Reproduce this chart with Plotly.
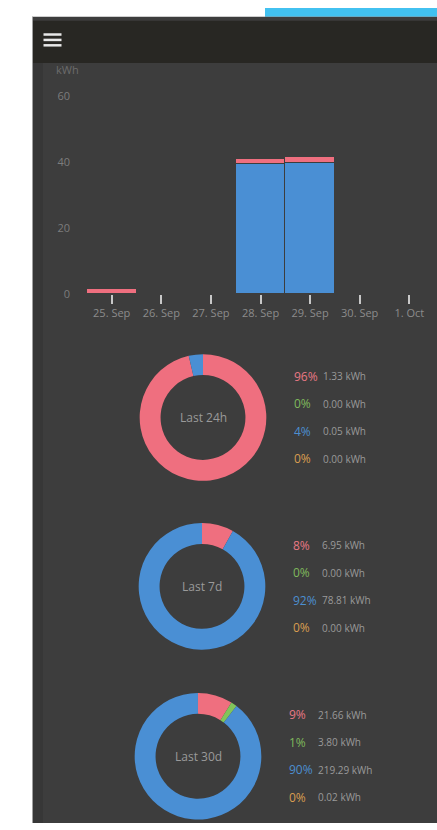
import plotly.graph_objects as go

W, H = 437, 830

# ---- data ----
days = ["25. Sep", "26. Sep", "27. Sep", "28. Sep", "29. Sep", "30. Sep", "1. Oct"]
pink_kwh = [1.7, 0, 0, 1.5, 1.6, 0, 0]
blue_kwh = [0, 0, 0, 39.3, 39.8, 0, 0]
y_ticks = [0, 20, 40, 60]

periods = ["Last 24h", "Last 7d", "Last 30d"]
slice_names = ["Pink", "Green", "Blue", "Orange"]
vals_24h = [1.33, 0.00, 0.05, 0.00]
vals_7d = [6.95, 0.00, 78.81, 0.00]
vals_30d = [21.66, 3.80, 219.29, 0.02]
pct_24h = ["96%", "0%", "4%", "0%"]
pct_7d = ["8%", "0%", "92%", "0%"]
pct_30d = ["9%", "1%", "90%", "0%"]

PINK = "#ef6f7f"
GREEN = "#82c45a"
BLUE = "#4a8fd4"
ORANGE = "#e0a04e"
slice_colors = [PINK, GREEN, BLUE, ORANGE]
pct_colors = ["#e87884", "#7fb95c", "#4c8fd0", "#d99d50"]

PANEL = "#3d3d3d"


def px(x):
    return x / W


def py(y):
    return 1 - y / H


fig = go.Figure()

fig.add_trace(go.Bar(x=days, y=blue_kwh, marker=dict(color=BLUE, line=dict(color=PANEL, width=1)),
                     width=1.0, name="Blue", xaxis="x", yaxis="y", hoverinfo="skip"))
fig.add_trace(go.Bar(x=days, y=pink_kwh, marker=dict(color=PINK, line=dict(color=PANEL, width=1)),
                     width=1.0, name="Pink", xaxis="x", yaxis="y", hoverinfo="skip"))

annotations = []
donuts = [
    (vals_24h, pct_24h, periods[0], 203, 417),
    (vals_7d, pct_7d, periods[1], 202, 589),
    (vals_30d, pct_30d, periods[2], 198, 762),
]
R = 64.5
for vals, pcts, label, cx, cy in donuts:
    fig.add_trace(go.Pie(
        values=vals, labels=slice_names, sort=False, direction="clockwise", rotation=0,
        hole=0.67, marker=dict(colors=slice_colors, line=dict(width=0)),
        textinfo="none", hoverinfo="skip", showlegend=False,
        domain=dict(x=[px(cx - R), px(cx + R)], y=[py(cy + R), py(cy - R)]),
    ))
    annotations.append(dict(x=px(cx), y=py(cy), xref="paper", yref="paper", text=label,
                            showarrow=False, xanchor="center", yanchor="middle",
                            font=dict(size=12, color="#9a9a9a")))
    lx = cx + 89
    row0 = cy - 42
    for i, (p, v) in enumerate(zip(pcts, vals)):
        yy = row0 + i * 28
        annotations.append(dict(x=px(lx), y=py(yy), xref="paper", yref="paper", text=p,
                                showarrow=False, xanchor="left", yanchor="middle",
                                font=dict(size=12, color=pct_colors[i])))
        annotations.append(dict(x=px(lx + 29), y=py(yy), xref="paper", yref="paper",
                                text=f"{v:.2f} kWh", showarrow=False, xanchor="left",
                                yanchor="middle", font=dict(size=10, color="#9a9a9a")))

annotations.append(dict(x=px(54), y=py(63), xref="paper", yref="paper", text="kWh",
                        showarrow=False, xanchor="left", yanchor="middle",
                        font=dict(size=11, color="#6c6c6c")))

shapes = [
    dict(type="rect", xref="paper", yref="paper", x0=px(265), x1=1, y0=py(9), y1=1,
         fillcolor="#42c1f0", line=dict(width=0), layer="below"),
    dict(type="rect", xref="paper", yref="paper", x0=px(32), x1=1, y0=0, y1=py(9),
         fillcolor=PANEL, line=dict(width=0), layer="below"),
    dict(type="rect", xref="paper", yref="paper", x0=px(33), x1=px(43), y0=0, y1=py(56),
         fillcolor="#373737", line=dict(width=0), layer="below"),
    dict(type="rect", xref="paper", yref="paper", x0=px(32), x1=1, y0=py(56), y1=py(13),
         fillcolor="#282723", line=dict(width=0), layer="below"),
    dict(type="line", xref="paper", yref="paper", x0=px(32.5), x1=px(32.5), y0=0, y1=py(9),
         line=dict(color="#a0a0a0", width=1), layer="below"),
]
for yy in [27, 32.5, 38]:
    shapes.append(dict(type="line", xref="paper", yref="paper", x0=px(43.5), x1=px(61.5),
                       y0=py(yy), y1=py(yy), line=dict(color="#e8e8e8", width=2.5)))

x_left = 71
day_w = 49.6
x_c0 = 111.7

fig.update_layout(
    width=W, height=H,
    margin=dict(l=0, r=0, t=0, b=0, pad=0),
    paper_bgcolor="white",
    plot_bgcolor="rgba(0,0,0,0)",
    barmode="stack",
    bargap=0,
    showlegend=False,
    font=dict(family="Open Sans, sans-serif"),
    xaxis=dict(domain=[px(x_left), 1], type="category",
               range=[-(x_c0 - x_left) / day_w, (W - x_c0) / day_w],
               showgrid=False, zeroline=False, showline=False,
               ticks="outside", ticklen=9, tickwidth=1.5, tickcolor="#c8c8c8",
               tickfont=dict(size=11, color="#8c8c8c"), fixedrange=True),
    yaxis=dict(domain=[py(291.5), py(89.5)], range=[0, 60], tickvals=y_ticks,
               showgrid=False, zeroline=False, showline=False, ticks="",
               tickfont=dict(size=11, color="#7c7c7c"), fixedrange=True),
    shapes=shapes,
    annotations=annotations,
)

post = (
    "document.documentElement.style.margin='0';"
    "document.body.style.margin='0';document.body.style.padding='0';"
    "var gd=document.getElementById('{plot_id}');"
    "gd.style.position='fixed';gd.style.left='0px';gd.style.top='0px';"
)
fig.write_html("out.html", post_script=post, config={"displayModeBar": False})
